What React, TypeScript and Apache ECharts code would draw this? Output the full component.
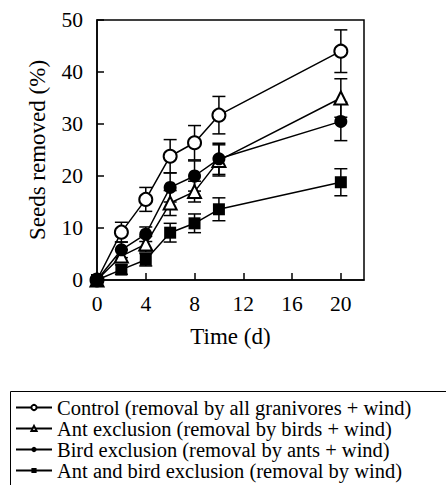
import React, { useEffect, useRef } from "react";
import * as echarts from "echarts";

const days = [0, 2, 4, 6, 8, 10, 20];
const seriesNames = [
  "Control (removal by all granivores + wind)",
  "Ant exclusion (removal by birds + wind)",
  "Bird exclusion (removal by ants + wind)",
  "Ant and bird exclusion (removal by wind)",
];
const symbols = ["emptyCircle", "emptyTriangle", "circle", "rect"];
const controlVals = [0, 9.2, 15.5, 23.8, 26.4, 31.7, 44.0];
const controlErr = [0, 1.9, 2.3, 3.2, 3.3, 3.6, 4.1];
const antExclVals = [0, 4.6, 6.9, 14.8, 17.0, 23.0, 35.0];
const antExclErr = [0, 1.2, 1.5, 2.4, 2.0, 3.0, 3.7];
const birdExclVals = [0, 5.8, 8.8, 17.8, 20.0, 23.3, 30.5];
const birdExclErr = [0, 1.5, 1.4, 2.8, 2.9, 3.0, 3.7];
const bothExclVals = [0, 2.0, 3.9, 9.1, 10.9, 13.6, 18.8];
const bothExclErr = [0, 0.9, 1.2, 1.8, 1.8, 2.2, 2.6];

const allVals = [controlVals, antExclVals, birdExclVals, bothExclVals];
const allErr = [controlErr, antExclErr, birdExclErr, bothExclErr];

const FONT = "Liberation Serif";

export default function App() {
  const ref = useRef<HTMLDivElement>(null);
  useEffect(() => {
    if (!ref.current) return;
    const chart = echarts.init(ref.current, null, { renderer: "svg" });
    const series: any[] = [];
    allVals.forEach((vals, si) => {
      const errData = days
        .map((d, i) => [d, vals[i] - allErr[si][i], vals[i] + allErr[si][i]])
        .filter((_, i) => allErr[si][i] > 0);
      series.push({
        type: "custom",
        name: seriesNames[si] + "_err",
        data: errData,
        z: 1,
        silent: true,
        renderItem: (params: any, api: any) => {
          const x = api.value(0);
          const lo = api.coord([x, api.value(1)]);
          const hi = api.coord([x, api.value(2)]);
          const hw = 6.5;
          const st = { stroke: "#000", lineWidth: 1.5 };
          return {
            type: "group",
            children: [
              { type: "line", shape: { x1: lo[0], y1: lo[1], x2: hi[0], y2: hi[1] }, style: st },
              { type: "line", shape: { x1: hi[0] - hw, y1: hi[1], x2: hi[0] + hw, y2: hi[1] }, style: st },
              { type: "line", shape: { x1: lo[0] - hw, y1: lo[1], x2: lo[0] + hw, y2: lo[1] }, style: st },
            ],
          };
        },
      });
    });
    allVals.forEach((vals, si) => {
      series.push({
        type: "line",
        name: seriesNames[si],
        data: days.map((d, i) => [d, vals[i]]),
        symbol: symbols[si],
        symbolSize: si === 3 ? 12 : 13,
        z: 3 + si,
        lineStyle: { color: "#000", width: 1.5 },
        itemStyle: { color: "#000" },
      });
    });
    chart.setOption({
      animation: false,
      backgroundColor: "#fff",
      grid: {
        left: 97,
        top: 20,
        right: 82,
        bottom: 205,
        show: true,
        borderColor: "#000",
        borderWidth: 1.5,
      },
      xAxis: {
        type: "value",
        min: 0,
        max: 21.9,
        interval: 4,
        name: "Time (d)",
        nameLocation: "middle",
        nameGap: 45,
        nameTextStyle: { fontFamily: FONT, fontSize: 23, color: "#000" },
        axisLine: { lineStyle: { color: "#000", width: 1.5 } },
        axisTick: { inside: true, length: 7, lineStyle: { color: "#000", width: 1.5 } },
        axisLabel: { fontFamily: FONT, fontSize: 21.5, color: "#000", margin: 13, showMaxLabel: false },
        splitLine: { show: false },
      },
      yAxis: {
        type: "value",
        min: 0,
        max: 50,
        interval: 10,
        name: "Seeds removed (%)",
        nameLocation: "middle",
        nameGap: 48,
        nameTextStyle: { fontFamily: FONT, fontSize: 23, color: "#000" },
        axisLine: { lineStyle: { color: "#000", width: 1.5 } },
        axisTick: { inside: true, length: 7, lineStyle: { color: "#000", width: 1.5 } },
        axisLabel: { fontFamily: FONT, fontSize: 21.5, color: "#000", margin: 14 },
        splitLine: { show: false },
      },
      legend: {
        data: seriesNames,
        orient: "vertical",
        left: 10,
        top: 389,
        padding: [8, 5, 0, 5],
        itemGap: 0,
        itemWidth: 36,
        itemHeight: 6.5,
        textStyle: {
          fontFamily: FONT,
          fontSize: 20.5,
          color: "#000",
          lineHeight: 19.5,
        },
      },
      graphic: [
        {
          type: "rect",
          left: 8,
          top: 389,
          shape: { x: 0, y: 0, width: 460, height: 120 },
          style: { fill: "none", stroke: "#000", lineWidth: 1 },
          silent: true,
        },
      ],
      series,
    });
    return () => chart.dispose();
  }, []);
  return <div ref={ref} style={{ width: 446, height: 485, position: "absolute", left: 0, top: 0 }} />;
}
